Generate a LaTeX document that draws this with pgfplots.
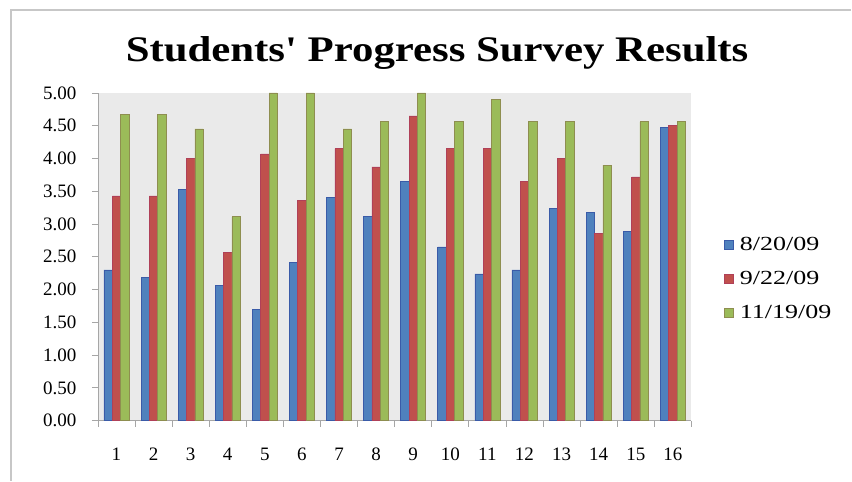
\documentclass[border=0pt]{standalone}
\usepackage{pgfplots}
\pgfplotsset{compat=1.18}
\usepackage{fontspec}
\setmainfont{Liberation Serif}[Ligatures=TeXOff]
\newfontfamily\titlefont{Liberation Serif}[Ligatures=TeXOff, FakeStretch=1.19]
\newfontfamily\legfont{Liberation Serif}[Ligatures=TeXOff, FakeStretch=1.3]
\definecolor{sblue}{HTML}{4F81BD}
\definecolor{sred}{HTML}{C0504D}
\definecolor{sgreen}{HTML}{9BBB59}
\definecolor{bblue}{HTML}{3A5BA8}
\definecolor{bred}{HTML}{B04058}
\definecolor{bgreen}{HTML}{8E8E50}
\definecolor{plotbg}{HTML}{EAEAEA}
\definecolor{axgray}{HTML}{A6A6A6}
\begin{document}
\begin{tikzpicture}
\begin{axis}[scale only axis, width=594pt, height=328pt,
  xmin=0.5, xmax=16.5, ymin=0, ymax=5,
  ybar=0pt, bar width=0.225,
  axis x line*=bottom, axis y line*=left,
  axis line style={axgray, line width=0.8pt, -},
  axis background/.style={fill=plotbg},
  xtick={1,...,16}, minor xtick={0.5,1.5,...,16.5},
  ytick={0,0.5,1,1.5,2,2.5,3,3.5,4,4.5,5},
  tick align=outside, major tick length=6pt, minor tick length=6pt,
  major x tick style={draw=none}, minor x tick style={axgray, line width=0.8pt},
  y tick style={axgray, line width=0.8pt},
  /pgf/number format/assume math mode=true,
  yticklabel={\pgfmathprintnumber[fixed, fixed zerofill, precision=2]{\tick}},
  yticklabel style={font=\fontsize{19}{20}\selectfont, xshift=-12pt},
  xticklabel style={font=\fontsize{19}{20}\selectfont, yshift=-17.5pt},
  legend style={at={(1.05,0.433)}, anchor=west, draw=none, fill=none,
    font=\legfont\fontsize{20}{22}\selectfont, row sep=15pt, legend cell align=left},
  sq/.style={legend image code/.code={\draw[##1, line width=0.6pt] (0pt,-4.5pt) rectangle (9pt,4.5pt); \path (13pt,0pt);}},
  clip=false
]
\addplot[fill=sblue, draw=bblue, line width=0.6pt, sq] coordinates {
(1,2.30) (2,2.18) (3,3.53) (4,2.06) (5,1.70) (6,2.42) (7,3.41) (8,3.12)
(9,3.65) (10,2.65) (11,2.24) (12,2.30) (13,3.24) (14,3.18) (15,2.89) (16,4.48)};
\addplot[fill=sred, draw=bred, line width=0.6pt, sq] coordinates {
(1,3.43) (2,3.43) (3,4.00) (4,2.57) (5,4.07) (6,3.36) (7,4.15) (8,3.87)
(9,4.65) (10,4.15) (11,4.15) (12,3.65) (13,4.00) (14,2.86) (15,3.72) (16,4.51)};
\addplot[fill=sgreen, draw=bgreen, line width=0.6pt, sq] coordinates {
(1,4.67) (2,4.67) (3,4.45) (4,3.11) (5,5.00) (6,5.00) (7,4.45) (8,4.56)
(9,5.00) (10,4.56) (11,4.90) (12,4.56) (13,4.56) (14,3.90) (15,4.56) (16,4.56)};
\legend{8/20/09, 9/22/09, 11/19/09}
\end{axis}
\path (-98pt,-60pt) rectangle (754pt,421pt);
\draw[line width=1.5pt, color=black!22] (-87pt,-60pt) -- (-87pt,411pt) -- (754pt,411pt);
\node[font=\titlefont\fontsize{36}{40}\selectfont\bfseries, anchor=base] at (339.5pt,359pt) {Students' Progress Survey Results};
\end{tikzpicture}
\end{document}
